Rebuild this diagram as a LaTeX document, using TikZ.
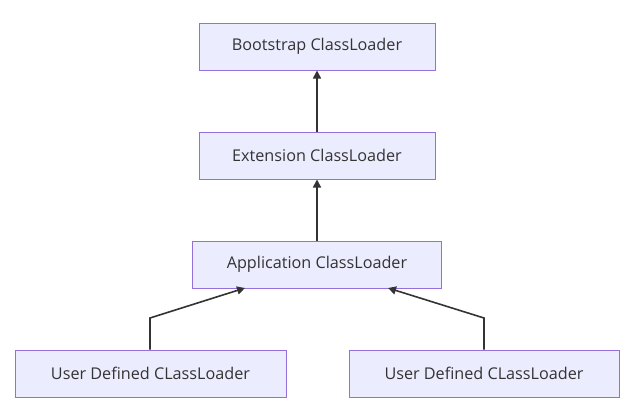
\documentclass[tikz,border=0pt]{standalone}
\usepackage{fontspec}
\setmainfont{Open Sans}
\usetikzlibrary{arrows.meta}
\definecolor{boxfill}{HTML}{ECECFF}
\definecolor{boxline}{HTML}{9370DB}
\definecolor{edge}{HTML}{333333}
\begin{document}
\begin{tikzpicture}[x=1pt,y=-1pt,
  cls/.style={draw=boxline,fill=boxfill,line width=1pt,inner sep=0pt,
    font=\fontsize{16.2}{19}\selectfont,text=edge},
  link/.style={draw=edge,line width=1.6pt,-{Triangle[length=8pt,width=8pt]}}]
\useasboundingbox (0,0) rectangle (634,413);
\node[cls,minimum width=236pt,minimum height=47pt] (boot) at (317,46.5) {Bootstrap ClassLoader};
\node[cls,minimum width=236pt,minimum height=47pt] (ext) at (317,155.5) {Extension ClassLoader};
\node[cls,minimum width=249pt,minimum height=47pt] (app) at (317,264.5) {Application ClassLoader};
\node[cls,minimum width=271pt,minimum height=47pt] (u1) at (150.5,373.5) {User Defined CLassLoader};
\node[cls,minimum width=270pt,minimum height=47pt] (u2) at (484,373.5) {User Defined CLassLoader};
\coordinate (b1) at (150,318);
\coordinate (b2) at (484,318);
\coordinate (t1) at (245,288);
\coordinate (t2) at (388,288);
\draw[link] (ext.north) -- (boot.south);
\draw[link] (app.north) -- (ext.south);
\draw[link] (u1.north -| b1) -- (b1) -- (t1);
\draw[link] (u2.north -| b2) -- (b2) -- (t2);
\end{tikzpicture}
\end{document}
